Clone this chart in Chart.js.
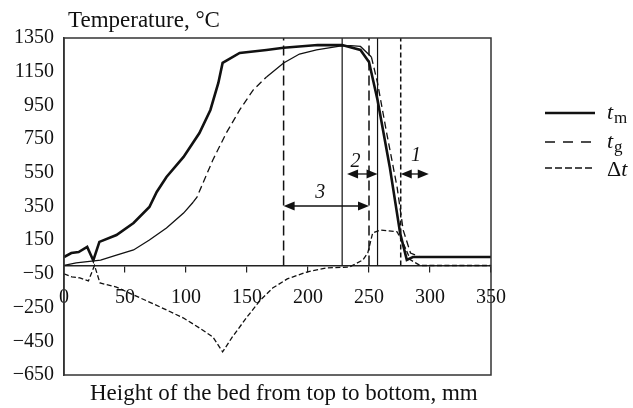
<!DOCTYPE html>
<html><head><meta charset="utf-8">
<script src="https://cdn.jsdelivr.net/npm/chart.js@4/dist/chart.umd.min.js"></script>
<style>html,body{margin:0;padding:0;background:#fff;}</style>
</head><body>
<canvas id="c" width="633" height="408"></canvas>
<script>
// ---- data ----
const tmX = [0,6,12,19,24,29,43,57,70,76,84,98,111,120,126.5,130,144,166,180,208,228,243,250,257,267,275.5,281,286,294,350];
const tmY = [50,74,80,110,30,140,181,252,347,436,525,644,786,923,1083,1202,1261,1279,1292,1308,1308,1279,1208,982,585,193,33,50,50,50];

const tgX = [0,10,30,43,57,70,84,98,106,109,122,133,144,155,166,180,193,207,226,235,243,252,257,264.5,273,278,284,292,350];
const tgY = [0,15,32,62,92,151,222,311,377,406,626,786,923,1041,1119,1202,1255,1280,1302,1305,1300,1237,1083,786,466,211,74,50,50];

const dtX = [0,6.5,13,20,25,29.5,43,57,70,84,98,111,122,130,138,150,161,171,183,199,215,234,245,249,253,259,273,278,284,292,350];
const dtY = [-50,-68,-74,-92,0,-104,-128,-175,-217,-264,-312,-371,-424,-513,-424,-306,-205,-134,-80,-39,-15,-9,33,74,193,210,200,133,33,0,0];

const yTicks = [1350,1150,950,750,550,350,150,-50,-250,-450,-650];
const xTicks = [0,50,100,150,200,250,300,350];

// zone boundaries (mm) and zone arrows
const boundaryX = [180,228,250,257,276];
const arrowFrom = [180,232,276];
const arrowTo   = [250,257,299];
const arrowAtT  = [353,543,543];
const zoneLabels = ['3','2','1'];
const zoneLabelX = [210,239,288.5];
const zoneLabelT = [430,614,650];

const seriesNames = ['t|m','t|g','Δt|'];
const yTitle = 'Temperature, °C';
const xTitle = 'Height of the bed from top to bottom, mm';

// ---- build ----
const pts = (xs, ys) => xs.map((x,i)=>({x, y: ys[i]}));
const INK = '#111';
const SERIF = "'Liberation Serif', 'Times New Roman', serif";
const tgDashRanges = [[105,160],[245,300]];
const boundaryStyles = [[10,5],[],[10,5],[],[5,3]];

const datasets = [
  {label: seriesNames[0], data: pts(tmX,tmY), borderColor: INK, borderWidth: 2.6, pointRadius: 0, showLine: true, tension: 0},
  {label: seriesNames[1], data: pts(tgX,tgY), borderColor: INK, borderWidth: 1.3, pointRadius: 0, showLine: true, tension: 0,
    segment: {borderDash: ctx => tgDashRanges.some(r => ctx.p0.parsed.x >= r[0] && ctx.p0.parsed.x < r[1]) ? [7,4] : []}},
  {label: seriesNames[2], data: pts(dtX,dtY), borderColor: INK, borderWidth: 1.3, pointRadius: 0, showLine: true, tension: 0, borderDash: [5,2.5]},
];
boundaryX.forEach((bx,i) => datasets.push({
  label: 'b'+i, data: [{x:bx,y:0},{x:bx,y:1350}], borderColor: INK, borderWidth: boundaryStyles[i].length ? 1.5 : 1.2,
  borderDash: boundaryStyles[i], pointRadius: 0, showLine: true
}));

function arrowHead(ctx, x, y, dir) {
  ctx.beginPath();
  ctx.moveTo(x, y);
  ctx.lineTo(x - dir*11, y - 4.5);
  ctx.lineTo(x - dir*11, y + 4.5);
  ctx.closePath();
  ctx.fill();
}

const extras = {
  id: 'extras',
  afterDraw(chart) {
    const ctx = chart.ctx, ca = chart.chartArea, xs = chart.scales.x, ys = chart.scales.y;
    ctx.save();
    // frame
    ctx.strokeStyle = '#333'; ctx.lineWidth = 1.5;
    ctx.strokeRect(ca.left, ca.top, ca.right - ca.left, ca.bottom - ca.top);
    // arrows
    ctx.strokeStyle = INK; ctx.fillStyle = INK; ctx.lineWidth = 1.3;
    for (let i = 0; i < arrowFrom.length; i++) {
      const x1 = xs.getPixelForValue(arrowFrom[i]), x2 = xs.getPixelForValue(arrowTo[i]), y = ys.getPixelForValue(arrowAtT[i]);
      ctx.beginPath(); ctx.moveTo(x1 + 4, y); ctx.lineTo(x2 - 4, y); ctx.stroke();
      arrowHead(ctx, x1, y, -1); arrowHead(ctx, x2, y, 1);
      ctx.font = "italic 20px " + SERIF; ctx.textAlign = 'center'; ctx.textBaseline = 'middle';
      ctx.fillText(zoneLabels[i], xs.getPixelForValue(zoneLabelX[i]), ys.getPixelForValue(zoneLabelT[i]));
    }
    // titles
    ctx.font = "23px " + SERIF; ctx.textAlign = 'left'; ctx.textBaseline = 'alphabetic';
    ctx.fillText(yTitle, ca.left + 4, ca.top - 11);
    ctx.fillText(xTitle, ca.left + 26, ca.bottom + 25);
    // legend
    const legendDash = [[], [10,8], [7,3]];
    const lx = ca.right + 54, rowY = [113, 142, 168];
    chart.data.datasets.slice(0,3).forEach((ds, i) => {
      ctx.save();
      ctx.strokeStyle = ds.borderColor; ctx.lineWidth = i === 0 ? 2.6 : 1.6;
      ctx.setLineDash(legendDash[i]);
      ctx.beginPath(); ctx.moveTo(lx, rowY[i]); ctx.lineTo(lx + 50, rowY[i]); ctx.stroke();
      ctx.restore();
      const [main, sub] = ds.label.split('|');
      ctx.textAlign = 'left'; ctx.textBaseline = 'alphabetic';
      let tx = lx + 62;
      if (main.length > 1) {
        ctx.font = "22px " + SERIF; ctx.fillText(main[0], tx, rowY[i] + 8); tx += ctx.measureText(main[0]).width;
        ctx.font = "italic 22px " + SERIF; ctx.fillText(main.slice(1), tx, rowY[i] + 8);
      } else {
        ctx.font = "italic 22px " + SERIF; ctx.fillText(main, tx, rowY[i] + 6); tx += ctx.measureText(main).width + 1;
      }
      if (sub) { ctx.font = "17px " + SERIF; ctx.fillText(sub, tx, rowY[i] + 10); }
    });
    ctx.restore();
  }
};

new Chart(document.getElementById('c'), {
  type: 'scatter',
  data: {datasets},
  options: {
    responsive: false, animation: false,
    layout: {padding: {left: 0, top: 38, right: 142, bottom: 33}},
    plugins: {legend: {display: false}, tooltip: {enabled: false}},
    scales: {
      x: {
        type: 'linear', min: 0, max: 350, position: {y: 0},
        afterBuildTicks: s => { s.ticks = xTicks.map(v => ({value: v})); },
        grid: {display: true, drawOnChartArea: false, drawTicks: true, tickLength: 6, color: '#222', lineWidth: 1.2},
        border: {display: true, color: '#222', width: 1.5},
        ticks: {color: INK, font: {family: SERIF, size: 20}, padding: 14, maxRotation: 0, autoSkip: false}
      },
      y: {
        type: 'linear', min: -650, max: 1350, position: 'left',
        afterBuildTicks: s => { s.ticks = yTicks.map(v => ({value: v})); },
        afterFit: s => { s.width = 64; },
        grid: {display: false, drawTicks: false},
        border: {display: true, color: '#333', width: 1.5},
        ticks: {color: INK, font: {family: SERIF, size: 20}, padding: 10, autoSkip: false,
          callback: v => String(v).replace('-', '\u2212')}
      }
    }
  },
  plugins: [extras]
});
</script>
</body></html>
